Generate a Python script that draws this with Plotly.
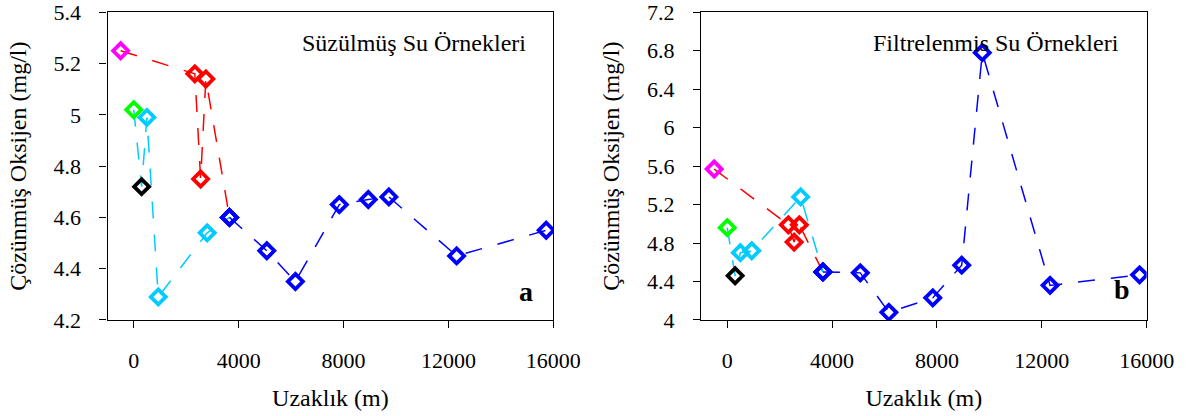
import plotly.graph_objects as go

# Distances (m) for each connected series
dist_red = [-500, 2330, 2550, 2750, 3650]
dist_cyan = [0, 300, 500, 935, 2800, 3650]
dist_blue = [3650, 5075, 6165, 7840, 8945, 9730, 12315, 15730]

# Dissolved oxygen (mg/l) - panel a (Süzülmüş)
do_red_a = [5.25, 5.16, 4.75, 5.14, 4.60]
do_cyan_a = [5.02, 4.72, 4.99, 4.29, 4.54, 4.60]
do_blue_a = [4.60, 4.47, 4.35, 4.65, 4.67, 4.68, 4.45, 4.55]

# Dissolved oxygen (mg/l) - panel b (Filtrelenmis)
do_red_b = [5.57, 4.99, 4.81, 4.99, 4.50]
do_cyan_b = [4.96, 4.46, 4.70, 4.72, 5.28, 4.50]
do_blue_b = [4.50, 4.49, 4.08, 4.23, 4.57, 6.78, 4.36, 4.47]

x_ticks = [0, 4000, 8000, 12000, 16000]

MAG, RED, GRN, CYN, BLK, BLU = "#FF00FF", "#FF0000", "#00FF00", "#00CCFF", "#000000", "#0000FF"
red_marker_colors = [MAG, RED, RED, RED, BLU]
cyan_marker_colors = [GRN, BLK, CYN, CYN, CYN, BLU]
blue_marker_colors = [BLU] * len(dist_blue)

FONT = "'Liberation Serif', 'DejaVu Serif', serif"
DASH = "17px,16px"

fig = go.Figure()

panels = [
    ("x", "y", do_red_a, do_cyan_a, do_blue_a),
    ("x2", "y2", do_red_b, do_cyan_b, do_blue_b),
]
series_colors = [RED, CYN, BLU]
for xa, ya, r, c, b in panels:
    for d, v, col in zip([dist_red, dist_cyan, dist_blue], [r, c, b], series_colors):
        fig.add_trace(go.Scatter(x=d, y=v, mode="lines", xaxis=xa, yaxis=ya,
                                 line=dict(color=col, width=1.5, dash=DASH),
                                 showlegend=False, hoverinfo="skip"))
for xa, ya, r, c, b in panels:
    for d, v, mc in zip([dist_red, dist_cyan, dist_blue], [r, c, b],
                        [red_marker_colors, cyan_marker_colors, blue_marker_colors]):
        fig.add_trace(go.Scatter(x=d, y=v, mode="markers", xaxis=xa, yaxis=ya,
                                 marker=dict(symbol="diamond-open", size=11.5,
                                             color=mc, line=dict(color=mc, width=3.8)),
                                 showlegend=False))

axis_common = dict(showline=True, linecolor="black", linewidth=1.3, mirror=True,
                   ticks="outside", ticklen=7, tickwidth=1.3, tickcolor="black",
                   showgrid=False, zeroline=False, automargin=False,
                   tickfont=dict(family=FONT, size=22, color="black"))

xcommon = dict(axis_common, range=[-1000, 16000], tickvals=x_ticks,
               ticktext=[str(t) for t in x_ticks], ticklabelstandoff=13,
               title=dict(text="Uzaklık (m)", font=dict(family=FONT, size=24, color="black"), standoff=17))

fig.update_layout(
    width=1187, height=416,
    margin=dict(l=0, r=0, t=0, b=0, autoexpand=False),
    paper_bgcolor="white", plot_bgcolor="white",
    font=dict(family=FONT, color="black"),
    xaxis=dict(xcommon, domain=[0.0906, 0.4661], anchor="y"),
    xaxis2=dict(xcommon, domain=[0.5906, 0.9660], anchor="y2"),
    yaxis=dict(axis_common, domain=[0.2308, 0.9704], anchor="x", range=[4.2, 5.4], dtick=0.2, tick0=4.2,
               ticklabelstandoff=14,
               title=dict(text="Çözünmüş Oksijen (mg/l)", font=dict(family=FONT, size=24, color="black"), standoff=20)),
    yaxis2=dict(axis_common, domain=[0.2308, 0.9704], anchor="x2", range=[4.0, 7.2], dtick=0.4, tick0=4.0,
                ticklabelstandoff=14,
                title=dict(text="Çözünmüş Oksijen (mg/l)", font=dict(family=FONT, size=24, color="black"), standoff=20)),
)

fig.add_annotation(text="Süzülmüş Su Örnekleri", xref="x domain", yref="y domain", x=0.9426, y=0.90,
                   xanchor="right", yanchor="middle", showarrow=False,
                   font=dict(family=FONT, size=24, color="black"))
fig.add_annotation(text="Filtrelenmis Su Örnekleri", xref="x2 domain", yref="y2 domain", x=0.9417, y=0.90,
                   xanchor="right", yanchor="middle", showarrow=False,
                   font=dict(family=FONT, size=24, color="black"))
fig.add_annotation(text="<b>a</b>", xref="x domain", yref="y domain", x=0.939, y=0.094,
                   xanchor="center", yanchor="middle", showarrow=False,
                   font=dict(family=FONT, size=28, color="black"))
fig.add_annotation(text="<b>b</b>", xref="x2 domain", yref="y2 domain", x=0.944, y=0.0975,
                   xanchor="center", yanchor="middle", showarrow=False,
                   font=dict(family=FONT, size=28, color="black"))

fig.write_html("out.html")
